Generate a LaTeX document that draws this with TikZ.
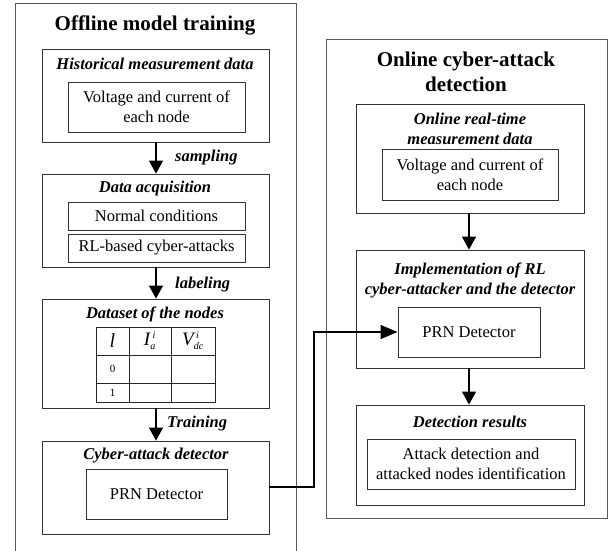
\documentclass[tikz,border=0pt]{standalone}
\usepackage{fontspec}
\setmainfont{Liberation Serif}
\usetikzlibrary{arrows.meta,fit}
\begin{document}
\begin{tikzpicture}[x=1pt,y=-1pt,
  outerbox/.style={draw=black!65,line width=0.9pt,inner sep=0pt,fill=none},
  box/.style={draw=black!80,line width=0.9pt,inner sep=0pt},
  title/.style={font=\fontsize{21}{25}\selectfont\bfseries,align=center,inner sep=0pt},
  head/.style={font=\fontsize{16.5}{20}\selectfont\bfseries\itshape,align=center,inner sep=0pt},
  txt/.style={font=\fontsize{16.5}{20}\selectfont,align=center,inner sep=0pt},
  lab/.style={font=\fontsize{16.5}{20}\selectfont\bfseries\itshape,anchor=west,inner sep=0pt},
  flow/.style={line width=1.4pt,-{Triangle[length=13pt,width=14pt]}},
  tcell/.style={draw=black!85,line width=0.8pt,inner sep=0pt},
]
\useasboundingbox (0,0) rectangle (610,550);
\fill[white] (0,0) rectangle (610,550);

% ---------- left panel ----------
\draw[black!65,line width=0.9pt] (15,560) -- (15,3) -- (296,3) -- (296,560);
\node[title] (ltitle) at (155,25) {Offline model training};

\node[box,fit={(42,49) (269,142)}] (hist) {};
\node[head] (histh) at (155,64) {Historical measurement data};
\node[box,fit={(68,82) (245,132)}] (hv) {};
\node[txt] (hvt) at (hv.center) {Voltage and current of\\each node};

\node[box,fit={(42,174) (269,267)}] (acq) {};
\node[head] (acqh) at (155,189) {Data acquisition};
\node[box,fit={(68,202) (245,230)}] (normal) {};
\node[txt] (normalt) at (normal.center) {Normal conditions};
\node[box,fit={(68,234) (245,262)}] (rl) {};
\node[txt] (rlt) at (rl.center) {RL-based cyber-attacks};

\node[box,fit={(42,299) (269,408)}] (data) {};
\node[head] (datah) at (155,314) {Dataset of the nodes};
% table
\node[tcell,fit={(96,327) (129,355)}] (c11) {};
\node[tcell,fit={(129,327) (171,355)}] (c12) {};
\node[tcell,fit={(171,327) (215,355)}] (c13) {};
\node[tcell,fit={(96,355) (129,383)}] (c21) {};
\node[tcell,fit={(129,355) (171,383)}] (c22) {};
\node[tcell,fit={(171,355) (215,383)}] (c23) {};
\node[tcell,fit={(96,383) (129,402)}] (c31) {};
\node[tcell,fit={(129,383) (171,402)}] (c32) {};
\node[tcell,fit={(171,383) (215,402)}] (c33) {};
\node[font=\fontsize{20}{20}\selectfont\itshape,inner sep=0pt] (tl) at (c11.center) {l};
\node[font=\fontsize{19}{20}\selectfont,inner sep=0pt] (tI) at (c12.center) {$\textit{I}^{\,\textit{\fontsize{10}{10}\selectfont i}}_{\textit{\fontsize{10}{10}\selectfont a}}$};
\node[font=\fontsize{19}{20}\selectfont,inner sep=0pt] (tV) at (c13.center) {$\textit{V}^{\,\textit{\fontsize{10}{10}\selectfont i}}_{\textit{\fontsize{10}{10}\selectfont dc}}$};
\node[font=\fontsize{11}{12}\selectfont,inner sep=0pt] (t0) at (c21.center) {0};
\node[font=\fontsize{11}{12}\selectfont,inner sep=0pt] (t1) at (c31.center) {1};

\node[box,fit={(42,441) (269,534)}] (det) {};
\node[head] (deth) at (156,456) {Cyber-attack detector};
\node[box,fit={(86,469) (227,519)}] (prn1) {};
\node[txt] (prn1t) at (prn1.center) {PRN Detector};

\draw[flow] (hist.south -| 156,0) -- (acq.north -| 156,0);
\draw[flow] (acq.south -| 156,0) -- (data.north -| 156,0);
\draw[flow] (data.south -| 156,0) -- (det.north -| 156,0);
\node[lab] (samp) at (175,158) {sampling};
\node[lab] (labl) at (175,285) {labeling};
\node[lab] (trn) at (167,424) {Training};

% ---------- right panel ----------
\node[outerbox,fit={(326,39) (607,518)}] (rout) {};
\node[title] (rtitle) at (466,72) {Online cyber-attack\\detection};

\node[box,fit={(356,104) (584,213)}] (online) {};
\node[head] (onlineh) at (470,129) {Online real-time\\measurement data};
\node[box,fit={(382,149) (558,200)}] (ov) {};
\node[txt] (ovt) at (ov.center) {Voltage and current of\\each node};

\node[box,fit={(356,250) (584,368)}] (impl) {};
\node[head] (implh) at (470,280) {Implementation of RL\\cyber-attacker and the detector};
\node[box,fit={(398,307) (540,357)}] (prn2) {};
\node[txt] (prn2t) at (prn2.center) {PRN Detector};

\node[box,fit={(356,405) (584,505)}] (res) {};
\node[head] (resh) at (470,422) {Detection results};
\node[box,fit={(367,439) (575,489)}] (att) {};
\node[txt] (attt) at (att.center) {Attack detection and\\attacked nodes identification};

\draw[flow] (online.south -| 469,0) -- (impl.north -| 469,0);
\draw[flow] (impl.south -| 469,0) -- (res.north -| 469,0);

% connector
\coordinate (k1) at (314,487);
\draw[line width=1.2pt,-{Triangle[length=17pt,width=14pt]}] (det.east |- k1) -- (k1) -- (314,332) -- (prn2.west);
\end{tikzpicture}
\end{document}
